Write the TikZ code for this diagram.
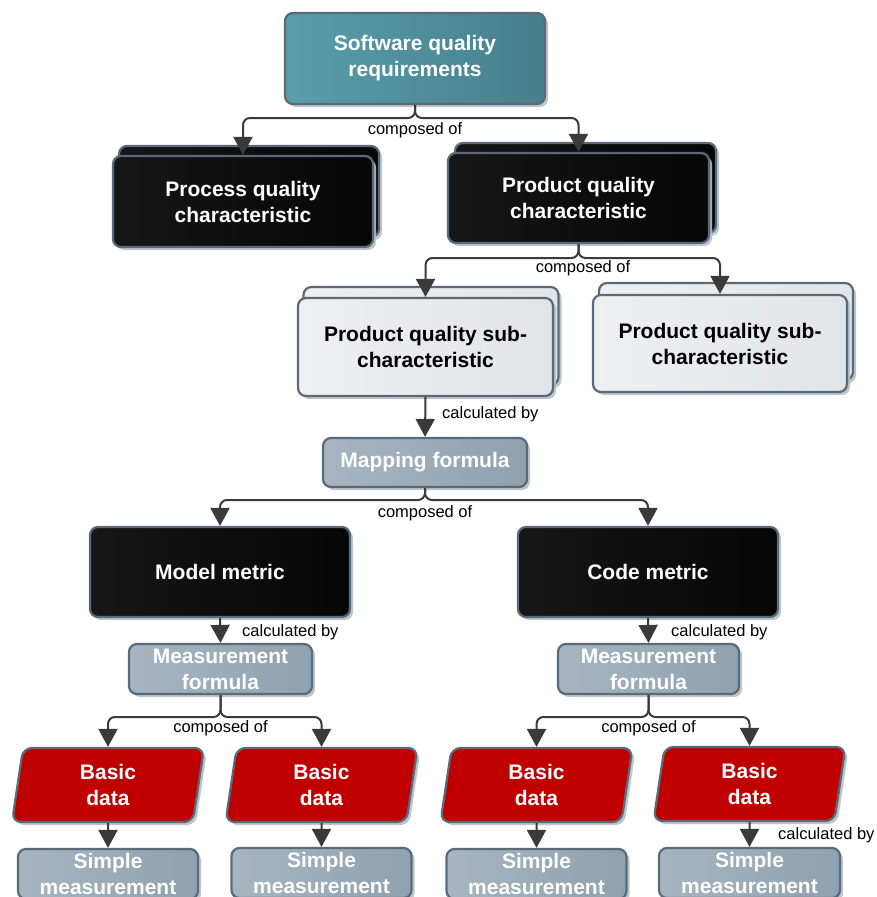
\documentclass[tikz,border=0pt]{standalone}
\usepackage{fontspec}
\setmainfont{Liberation Sans}
\usetikzlibrary{shapes.geometric,shadows,arrows.meta}
\definecolor{teal1}{HTML}{5A9DAB}
\definecolor{teal2}{HTML}{467F8C}
\definecolor{bdr}{HTML}{5A6A78}
\definecolor{blk1}{HTML}{161616}
\definecolor{blk2}{HTML}{060606}
\definecolor{lg1}{HTML}{EEEFF1}
\definecolor{lg2}{HTML}{E2E5E8}
\definecolor{gb1}{HTML}{A6B5C1}
\definecolor{gb2}{HTML}{90A1AF}
\definecolor{red1}{HTML}{C00000}
\definecolor{shd}{HTML}{B4BFC8}
\definecolor{conn}{HTML}{3A3A3A}
\tikzset{
  base/.style={draw=bdr, line width=2.2pt, rounded corners=8pt, align=center,
    font=\bfseries\fontsize{21}{26}\selectfont, inner sep=0pt,
    drop shadow={shadow xshift=3pt, shadow yshift=-3pt, fill=shd, opacity=0.9}},
  tealbox/.style={base, left color=teal1, right color=teal2, text=white},
  blkbox/.style={base, left color=blk1, right color=blk2, text=white},
  lgbox/.style={base, left color=lg1, right color=lg2, text=black},
  gbbox/.style={base, left color=gb1, right color=gb2, text=white},
  bdata/.style={base, fill=red1, text=white, trapezium, trapezium left angle=75,
    trapezium right angle=105, trapezium stretches body, rounded corners=9pt},
  arr/.style={draw=conn, line width=2pt, -{Triangle[length=18pt,width=19pt]}},
  brk/.style={arr, rounded corners=7pt},
  lbl/.style={font=\fontsize{16.5}{19}\selectfont, inner sep=0pt, text=black},
}
\begin{document}
\begin{tikzpicture}[x=1pt,y=-1pt]
\useasboundingbox (0,0) rectangle (877,897);
% top
\node[tealbox, minimum width=260pt, minimum height=91pt] (top) at (415,58.5) {Software quality\\requirements};
% process
\node[blkbox, minimum width=260pt, minimum height=91pt] (procb) at (249,191.5) {};
\node[blkbox, minimum width=260pt, minimum height=91pt] (proc) at (243,201.5) {Process quality\\characteristic};
% product
\node[blkbox, minimum width=261pt, minimum height=90pt] (prodb) at (585.5,188) {};
\node[blkbox, minimum width=261pt, minimum height=90pt] (prod) at (578.5,198) {Product quality\\characteristic};
% sub characteristics
\node[lgbox, minimum width=255pt, minimum height=98pt] (subab) at (431,336) {};
\node[lgbox, minimum width=255pt, minimum height=98pt] (suba) at (425.5,347) {Product quality sub-\\characteristic};
\node[lgbox, minimum width=254pt, minimum height=97pt] (subbb) at (726,331.5) {};
\node[lgbox, minimum width=254pt, minimum height=97pt] (subb) at (720,343.5) {Product quality sub-\\characteristic};
% mapping
\node[gbbox, minimum width=204pt, minimum height=49pt] (map) at (425,462.5) {Mapping formula};
% metrics
\node[blkbox, minimum width=260pt, minimum height=90pt] (model) at (220,572) {Model metric};
\node[blkbox, minimum width=260pt, minimum height=90pt] (code) at (648,572) {Code metric};
% measurement formulas
\node[gbbox, minimum width=183pt, minimum height=50pt] (measa) at (220.5,669) {Measurement\\formula};
\node[gbbox, minimum width=181pt, minimum height=50pt] (measb) at (648.5,669) {Measurement\\formula};
% basic data
\node[bdata, minimum width=192pt, minimum height=74pt] (bd1) at (108,785) {Basic\\data};
\node[bdata, minimum width=192pt, minimum height=74pt] (bd2) at (321.5,785) {Basic\\data};
\node[bdata, minimum width=192pt, minimum height=74pt] (bd3) at (536.5,785) {Basic\\data};
\node[bdata, minimum width=192pt, minimum height=74pt] (bd4) at (749.5,784) {Basic\\data};
% simple measurement
\node[gbbox, minimum width=180pt, minimum height=50pt] (sm1) at (108,874) {Simple\\measurement};
\node[gbbox, minimum width=180pt, minimum height=50pt] (sm2) at (321.5,873) {Simple\\measurement};
\node[gbbox, minimum width=180pt, minimum height=50pt] (sm3) at (536.5,874) {Simple\\measurement};
\node[gbbox, minimum width=181pt, minimum height=50pt] (sm4) at (749.5,873) {Simple\\measurement};
% junctions
\coordinate (j1) at (415,118);
\coordinate (j2) at (578.5,258);
\coordinate (j3) at (425,500);
\coordinate (j4) at (220.5,717);
\coordinate (j5) at (648.5,717);
% connectors
\draw[brk] (top.south) -- (j1) -| (proc.north);
\draw[brk] (top.south) -- (j1) -| (prod.north);
\draw[brk] (prod.south) -- (j2) -| (suba.north);
\draw[brk] (prod.south) -- (j2) -| (subb.north);
\draw[arr] (suba.south) -- (map.north);
\draw[brk] (map.south) -- (j3) -| (model.north);
\draw[brk] (map.south) -- (j3) -| (code.north);
\draw[arr] (model.south) -- (measa.north);
\draw[arr] (code.south) -- (measb.north);
\draw[brk] (measa.south) -- (j4) -| (bd1.north);
\draw[brk] (measa.south) -- (j4) -| (bd2.north);
\draw[brk] (measb.south) -- (j5) -| (bd3.north);
\draw[brk] (measb.south) -- (j5) -| (bd4.north);
\draw[arr] (bd1.south) -- (sm1.north);
\draw[arr] (bd2.south) -- (sm2.north);
\draw[arr] (bd3.south) -- (sm3.north);
\draw[arr] (bd4.south) -- (sm4.north);
% labels
\node[lbl] (l1) at (415,130) {composed of};
\node[lbl] (l2) at (583,268) {composed of};
\node[lbl, anchor=west] (l3) at (442,414) {calculated by};
\node[lbl] (l4) at (425,513) {composed of};
\node[lbl, anchor=west] (l5) at (242,632) {calculated by};
\node[lbl, anchor=west] (l6) at (671,632) {calculated by};
\node[lbl] (l7) at (220.5,728) {composed of};
\node[lbl] (l8) at (648.5,728) {composed of};
\node[lbl, anchor=west] (l9) at (778,835) {calculated by};
\end{tikzpicture}
\end{document}
